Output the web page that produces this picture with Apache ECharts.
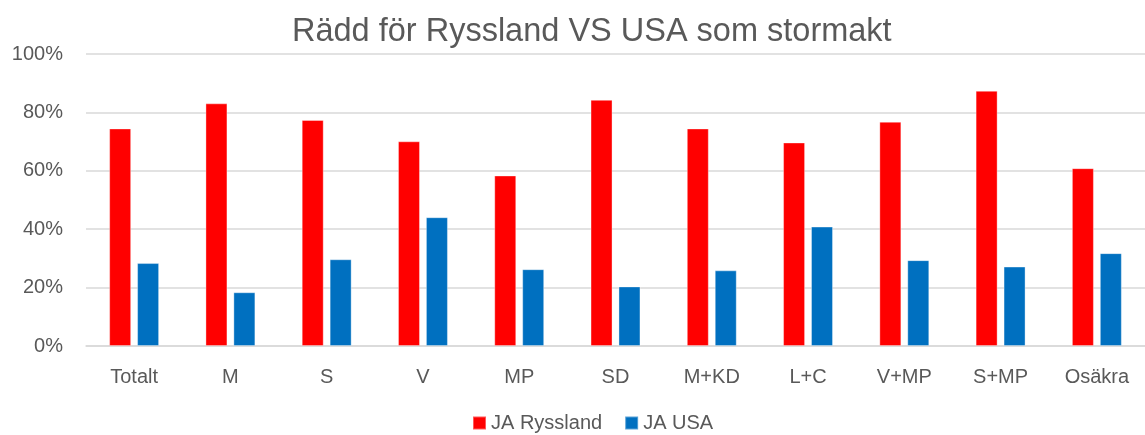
<!DOCTYPE html>
<html>
<head>
<meta charset="utf-8">
<script src="https://cdn.jsdelivr.net/npm/echarts@6/dist/echarts.min.js"></script>
<style>
  html, body { margin: 0; padding: 0; background: #fff; }
  #main { width: 1145px; height: 435px; }
</style>
</head>
<body>
<div id="main"></div>
<script>
var categories = ['Totalt', 'M', 'S', 'V', 'MP', 'SD', 'M+KD', 'L+C', 'V+MP', 'S+MP', 'Osäkra'];
var jaRyssland = [74.5, 83.1, 77.4, 70.1, 58.4, 84.3, 74.5, 69.7, 76.8, 87.4, 60.9];
var jaUSA = [28.4, 18.4, 29.7, 44.1, 26.3, 20.4, 25.9, 40.9, 29.4, 27.2, 31.8];
var yTicks = [0, 20, 40, 60, 80, 100];

var font = 'Liberation Sans';
var grey = '#595959';

var myChart = echarts.init(document.getElementById('main'));
var option = {
    animation: false,
    title: {
        text: 'Rädd för Ryssland VS USA som stormakt',
        left: 287,
        top: 11,
        textStyle: { fontFamily: font, fontSize: 32.5, fontWeight: 'normal', color: grey }
    },
    legend: {
        top: 408,
        left: 467,
        itemWidth: 13,
        itemHeight: 13,
        itemGap: 22,
        icon: 'rect',
        textStyle: { fontFamily: font, fontSize: 20, color: grey }
    },
    grid: {
        left: 86,
        top: 54,
        width: 1070,
        height: 292,
        containLabel: false
    },
    xAxis: {
        type: 'category',
        data: categories,
        axisTick: { show: false },
        axisLine: { lineStyle: { color: '#d9d9d9', width: 1.5 } },
        axisLabel: { fontFamily: font, fontSize: 20, color: grey, margin: 21 }
    },
    yAxis: {
        type: 'value',
        min: yTicks[0],
        max: yTicks[yTicks.length - 1],
        interval: 20,
        axisLabel: {
            fontFamily: font, fontSize: 20, color: grey, margin: 23,
            formatter: '{value}%'
        },
        splitLine: { lineStyle: { color: '#d9d9d9', width: 1.5 } },
        axisLine: { show: false },
        axisTick: { show: false }
    },
    series: [{
        name: 'JA Ryssland',
        type: 'bar',
        barWidth: 22,
        barGap: '27%',
        color: '#ff0000',
        itemStyle: { borderColor: 'rgba(255,255,255,0.35)', borderWidth: 1 },
        data: jaRyssland
    }, {
        name: 'JA USA',
        type: 'bar',
        barWidth: 22,
        color: '#0070c0',
        itemStyle: { borderColor: 'rgba(255,255,255,0.35)', borderWidth: 1 },
        data: jaUSA
    }]
};
myChart.setOption(option);
</script>
</body>
</html>
